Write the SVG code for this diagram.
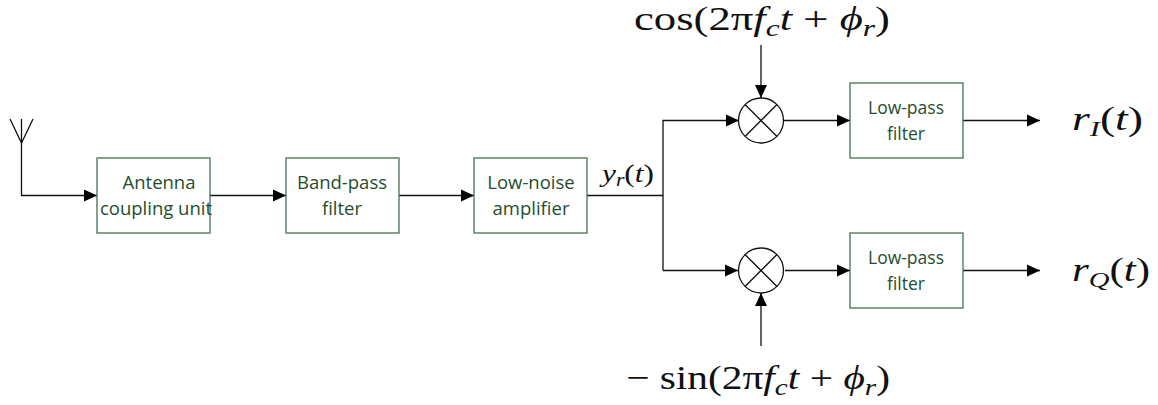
<svg xmlns="http://www.w3.org/2000/svg" width="1158" height="405" viewBox="0 0 1158 405">
<style>
.box{fill:#fff;stroke:#44704f;stroke-width:1.3}
.lb{font-family:"Open Sans","Noto Sans",sans-serif;font-size:18.500px;fill:#1f4d2e;text-anchor:middle}
.lp{font-size:17.500px}
.ln{fill:none;stroke:#111;stroke-width:1.3}
.m{font-family:"Liberation Serif",serif;fill:#111}
.i{font-style:italic}
.mix{fill:#fff;stroke:#111;stroke-width:1.3}
</style>
<defs><marker id="a" markerUnits="userSpaceOnUse" markerWidth="14" markerHeight="14" refX="13" refY="7" orient="auto"><path d="M0,1 L13,7 L0,13 Z" fill="#000"/></marker></defs>
<g id="connectors">
<path class="ln" d="M21.500,119 L21.500,195.500 L97,195.500" marker-end="url(#a)"/>
<path class="ln" d="M10,119 L21.500,143 L33,119"/>
<path class="ln" d="M210,195.500 L286,195.500" marker-end="url(#a)"/>
<path class="ln" d="M399,195.500 L474,195.500" marker-end="url(#a)"/>
<path class="ln" d="M587,195.500 L663,195.500"/>
<path class="ln" d="M663,270.500 L663,120.500 L739,120.500" marker-end="url(#a)"/>
<path class="ln" d="M663,270.500 L738,270.500" marker-end="url(#a)"/>
<path class="ln" d="M761,45 L761,98" marker-end="url(#a)"/>
<path class="ln" d="M761,346 L761,293" marker-end="url(#a)"/>
<path class="ln" d="M784,120.500 L850,120.500" marker-end="url(#a)"/>
<path class="ln" d="M785,270.500 L850,270.500" marker-end="url(#a)"/>
<path class="ln" d="M963,120.500 L1040,120.500" marker-end="url(#a)"/>
<path class="ln" d="M963,270.500 L1040,270.500" marker-end="url(#a)"/>
</g>
<g id="antenna-coupling"><rect class="box" x="97" y="158" width="113" height="75"/><text class="lb" x="159" y="189">Antenna</text><text class="lb" x="156" y="215">coupling unit</text></g>
<g id="band-pass"><rect class="box" x="286" y="158" width="113" height="75"/><text class="lb" x="342" y="189">Band-pass</text><text class="lb" x="342" y="215">filter</text></g>
<g id="low-noise"><rect class="box" x="474" y="158" width="113" height="75"/><text class="lb" x="531" y="189">Low-noise</text><text class="lb" x="531" y="215">amplifier</text></g>
<g id="mixer-top"><circle class="mix" cx="761" cy="120.500" r="22.500"/><path class="ln" d="M745,104.500 L777,136.500 M777,104.500 L745,136.500"/></g>
<g id="mixer-bottom"><circle class="mix" cx="761" cy="270.500" r="22.500"/><path class="ln" d="M745,254.500 L777,286.500 M777,254.500 L745,286.500"/></g>
<g id="lpf-top"><rect class="box" x="850" y="83" width="113" height="75"/><text class="lb lp" x="906" y="114">Low-pass</text><text class="lb lp" x="906" y="140">filter</text></g>
<g id="lpf-bottom"><rect class="box" x="850" y="233" width="113" height="75"/><text class="lb lp" x="906" y="264">Low-pass</text><text class="lb lp" x="906" y="290">filter</text></g>
<g id="labels">
<text class="m" x="602" y="182" font-size="26" textLength="52" lengthAdjust="spacingAndGlyphs"><tspan class="i">y</tspan><tspan class="i" font-size="18" dy="4">r</tspan><tspan dy="-4">(</tspan><tspan class="i">t</tspan>)</text>
<text class="m" x="634" y="30" font-size="34" textLength="256" lengthAdjust="spacingAndGlyphs">cos(2π<tspan class="i">f</tspan><tspan class="i" font-size="24" dy="6">c</tspan><tspan class="i" dy="-6">t</tspan> + <tspan class="i">ϕ</tspan><tspan class="i" font-size="24" dy="6">r</tspan><tspan dy="-6">)</tspan></text>
<text class="m" x="626" y="389" font-size="34" textLength="264" lengthAdjust="spacingAndGlyphs">− sin(2π<tspan class="i">f</tspan><tspan class="i" font-size="24" dy="6">c</tspan><tspan class="i" dy="-6">t</tspan> + <tspan class="i">ϕ</tspan><tspan class="i" font-size="24" dy="6">r</tspan><tspan dy="-6">)</tspan></text>
<text class="m" x="1072" y="130" font-size="33" textLength="71" lengthAdjust="spacingAndGlyphs"><tspan class="i">r</tspan><tspan class="i" font-size="22" dy="6">I</tspan><tspan dy="-6">(</tspan><tspan class="i">t</tspan>)</text>
<text class="m" x="1072" y="281" font-size="33" textLength="78" lengthAdjust="spacingAndGlyphs"><tspan class="i">r</tspan><tspan class="i" font-size="22" dy="6">Q</tspan><tspan dy="-6">(</tspan><tspan class="i">t</tspan>)</text>
</g>
</svg>
